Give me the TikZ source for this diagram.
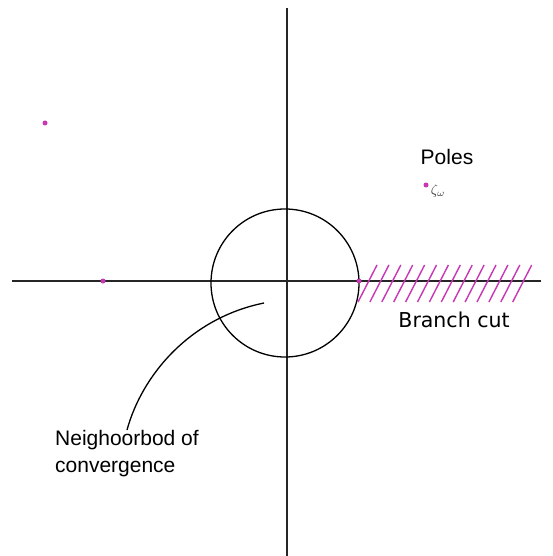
\documentclass[tikz,border=0pt]{standalone}
\usepackage{fontspec}
\setmainfont{Liberation Sans}
\newfontfamily\dvs{DejaVu Sans}
\begin{document}
\begin{tikzpicture}[x=1pt,y=-1pt,
  axis/.style={draw=black!85,line width=1.6pt},
  pole/.style={circle,fill=magentapole,inner sep=0pt,minimum size=5pt},
  hatch/.style={draw=magentapole,line width=1.4pt},
  lbl/.style={font=\fontsize{21}{25}\selectfont,inner sep=0pt}]
\definecolor{magentapole}{HTML}{C837B4}
\useasboundingbox[fill=white] (0,0) rectangle (552,556);
% axes
\coordinate (xl) at (12,281);
\coordinate (xr) at (541,281);
\coordinate (yt) at (287,8);
\coordinate (yb) at (287,556);
\draw[axis] (xl) -- (xr);
\draw[axis] (yt) -- (yb);
% circle
\node[draw=black,line width=1.3pt,circle,minimum size=148pt,inner sep=0pt] (disk) at (285,283) {};
% hatching (branch cut)
\foreach \i in {0,...,13}{
  \draw[hatch] ({358+\i*11.9},302) -- ({377+\i*11.9},265);
}
% poles
\node[pole] (p1) at (45,123) {};
\node[pole] (p2) at (103,281) {};
\node[pole] (p3) at (426,185) {};
\node[pole] (p4) at (359,281) {};
% labels
\node[lbl,anchor=center] (poles) at (447,157) {Poles};
\node[inner sep=0pt,text=black!80,scale=1.4] (zeta) at (438,191) {$\zeta_\omega$};
\node[lbl,anchor=center,font=\dvs\fontsize{20.5}{24}\selectfont] (bc) at (454,320) {Branch cut};
\node[lbl,anchor=north west,align=left,font=\fontsize{21}{27}\selectfont] (nb) at (55,430) {Neighoorbod of\\convergence};
% connector
\coordinate (cs) at (264,303);
\coordinate (ce) at (127,430);
\draw[line width=1.3pt] (cs) .. controls (190,318) and (142,375) .. (ce);
\end{tikzpicture}
\end{document}
